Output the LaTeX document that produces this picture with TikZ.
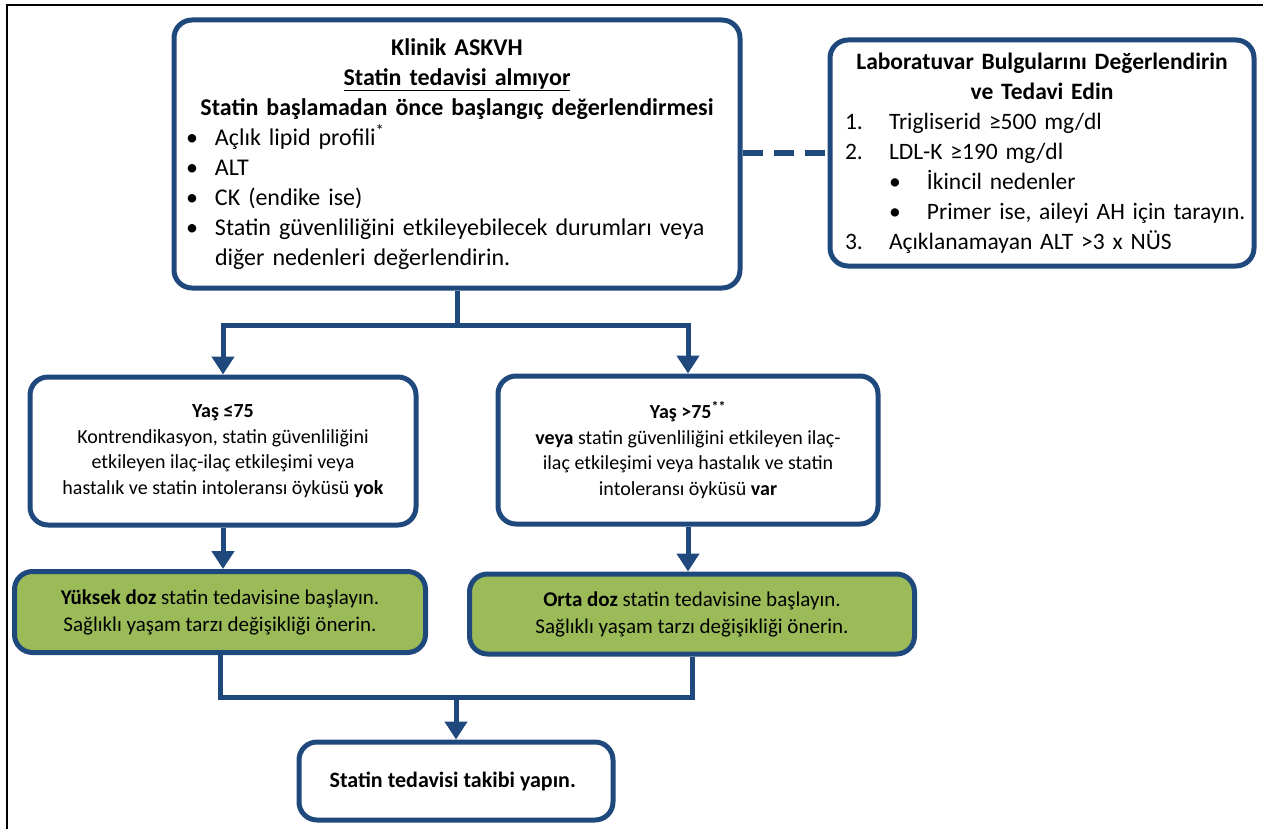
\documentclass[tikz,border=0pt]{standalone}
\usepackage{fontspec}
\setmainfont{Carlito}
\usepackage{tikz}
\usetikzlibrary{arrows.meta, positioning}
\definecolor{kenar}{RGB}{31,73,125}
\definecolor{doz}{RGB}{155,187,89}

\newcommand{\madde}[1]{\par\noindent\makebox[31pt][l]{\hspace{2pt}•}\parbox[t]{515pt}{\raggedright #1}}
\newcommand{\sira}[2]{\par\noindent\hspace*{8pt}\makebox[44pt][l]{#1}#2}
\newcommand{\altmadde}[1]{\par\noindent\hspace*{52pt}\makebox[38pt][l]{•}#1}

\begin{document}
\begin{tikzpicture}[
    x=1pt, y=-1pt,
    kutu/.style={draw=kenar, line width=5pt, rounded corners=18pt, fill=white, align=center, inner sep=0pt},
    dozkutu/.style={kutu, fill=doz},
    ok/.style={draw=kenar, line width=5pt, -{Triangle[width=22pt, length=18pt]}},
    hat/.style={draw=kenar, line width=5pt},
    kesik/.style={draw=kenar, line width=6pt, dash pattern=on 20pt off 11pt}
]
\useasboundingbox (0,0) rectangle (1263,829);

% Cerceve
\draw[line width=2pt] (7,829) -- (7,5) -- (1263,5);

% Baslangic degerlendirmesi
\node[kutu, minimum width=566pt, minimum height=268pt, text width=546pt, align=left,
      font=\fontsize{24}{30}\selectfont] (klinik) at (457,154) {
    {\centering\bfseries Klinik ASKVH\\
    \underline{Statin tedavisi almıyor}\\
    Statin başlamadan önce başlangıç değerlendirmesi\par}
    \madde{Açlık lipid profili\textsuperscript{*}}
    \madde{ALT}
    \madde{CK (endike ise)}
    \madde{Statin güvenliliğini etkileyebilecek durumları veya\\ diğer nedenleri değerlendirin.}
};

% Laboratuvar bulgulari
\node[kutu, minimum width=424pt, minimum height=226pt, text width=410pt, align=left,
      font=\fontsize{23.5}{30}\selectfont] (lab) at (1042,153) {
    {\centering\bfseries Laboratuvar Bulgularını Değerlendirin\\
    ve Tedavi Edin\par}
    \sira{1.}{Trigliserid ≥500 mg/dl}
    \sira{2.}{LDL-K ≥190 mg/dl}
    \altmadde{İkincil nedenler}
    \altmadde{\mbox{Primer ise, aileyi AH için tarayın.}}
    \sira{3.}{Açıklanamayan ALT >3 x NÜS}
};

% Yas kutulari
\node[kutu, minimum width=386pt, minimum height=148pt, font=\fontsize{20}{25.5}\selectfont] (yasA) at (223,451) {
    \textbf{Yaş ≤75}\\
    Kontrendikasyon, statin güvenliliğini\\
    etkileyen ilaç-ilaç etkileşimi  veya\\
    hastalık ve statin intoleransı öyküsü \textbf{yok}
};
\node[kutu, minimum width=380pt, minimum height=148pt, font=\fontsize{20}{25.5}\selectfont] (yasB) at (688,450) {
    \textbf{Yaş >75\textsuperscript{**}}\\
    \textbf{veya} statin güvenliliğini etkileyen ilaç-\\
    ilaç etkileşimi  veya hastalık ve statin\\
    intoleransı öyküsü \textbf{var}
};

% Doz kutulari
\node[dozkutu, minimum width=411pt, minimum height=81pt, font=\fontsize{21}{27}\selectfont] (dozA) at (220,612) {
    \textbf{Yüksek doz} statin tedavisine başlayın.\\
    Sağlıklı yaşam tarzı değişikliği önerin.
};
\node[dozkutu, minimum width=445pt, minimum height=80pt, font=\fontsize{21}{27}\selectfont] (dozB) at (692,614) {
    \textbf{Orta doz} statin tedavisine başlayın.\\
    Sağlıklı yaşam tarzı değişikliği önerin.
};

% Takip
\node[kutu, minimum width=314pt, minimum height=78pt, font=\fontsize{22}{26}\selectfont\bfseries] (takip) at (456,781) {
    Statin tedavisi takibi yapın.
};

% Baglantilar
\coordinate (ayrim) at (457,325);
\coordinate (birlesim) at (456,697);
\draw[kesik] (lab.west -| klinik.east) -- (lab.west);
\draw[hat] (klinik.south) -- (ayrim);
\draw[ok] (ayrim) -| (yasA.north);
\draw[ok] (ayrim) -| (yasB.north);
\draw[ok] (yasA.south) -- (yasA.south |- dozA.north);
\draw[ok] (yasB.south) -- (yasB.south |- dozB.north);
\draw[hat] (dozA.south) |- (birlesim);
\draw[hat] (dozB.south) |- (birlesim);
\draw[ok] (birlesim) -- (takip.north);

\end{tikzpicture}
\end{document}
